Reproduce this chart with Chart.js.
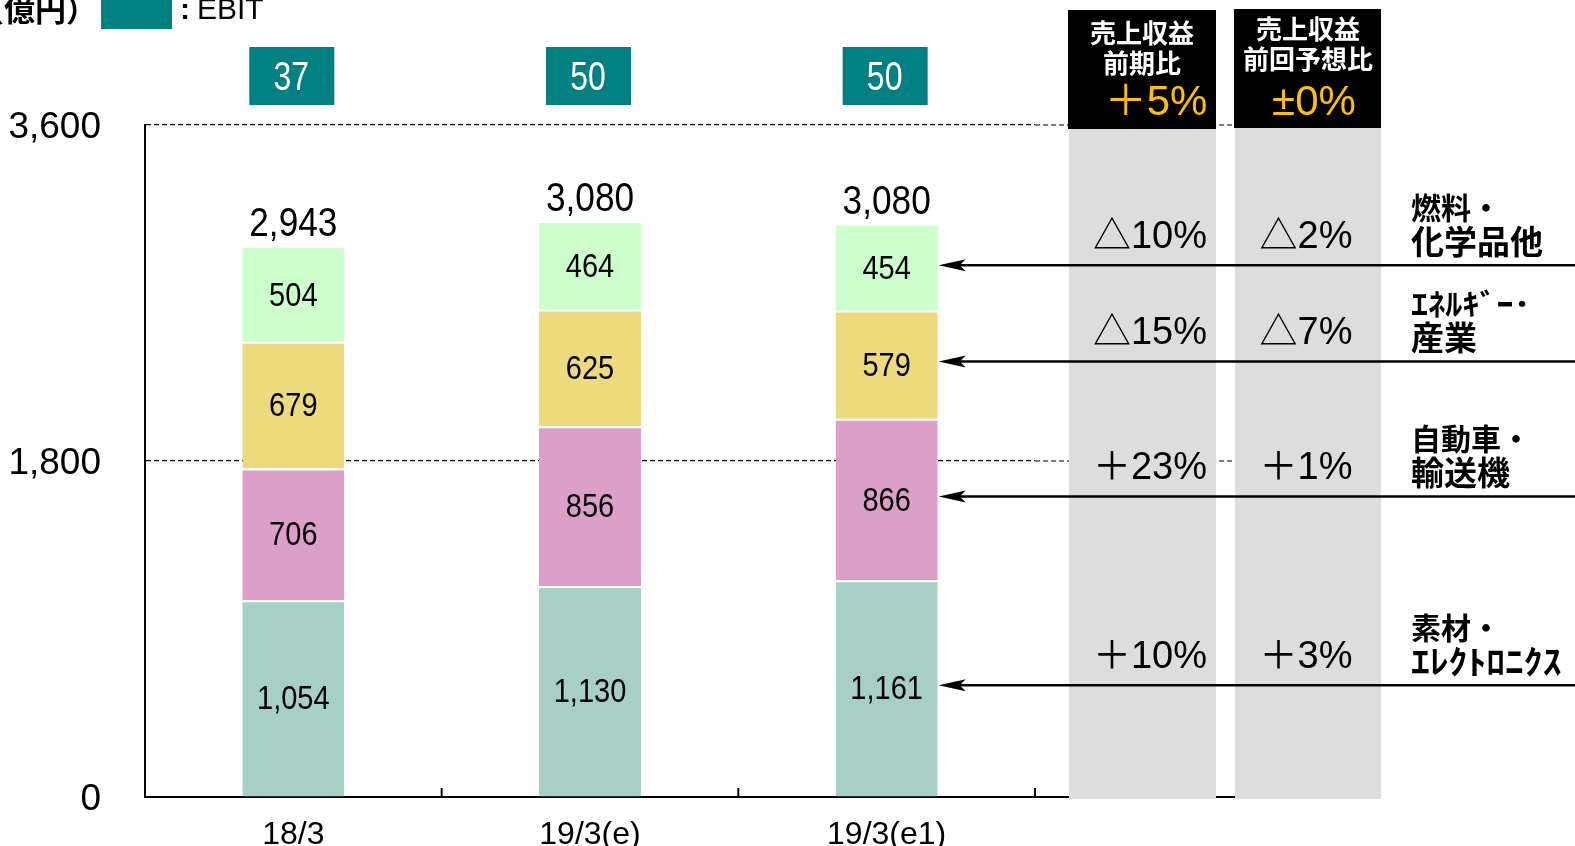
<!DOCTYPE html>
<html>
<head>
<meta charset="utf-8">
<script src="https://cdn.jsdelivr.net/npm/chart.js@4.4.0/dist/chart.umd.min.js"></script>
<style>
  html, body { margin: 0; padding: 0; background: #fff; }
</style>
</head>
<body>
<canvas id="my-chart" width="1575" height="846"></canvas>
<script>
'use strict';

/* DATA */
const categories = ['18/3', '19/3(e)', '19/3(e1)'];
const materials = [1054, 1130, 1161];   // 素材・エレクトロニクス
const automotive = [706, 856, 866];     // 自動車・輸送機
const energy = [679, 625, 579];         // エネルギー・産業
const fuels = [504, 464, 454];          // 燃料・化学品他
const totals = [2943, 3080, 3080];
const ebit = [37, 50, 50];
const yTicks = [0, 1800, 3600];
// bottom to top, same order as the datasets
const segmentNames = [['素材・', 'ｴﾚｸﾄﾛﾆｸｽ'], ['自動車・', '輸送機'], ['ｴﾈﾙｷﾞｰ･', '産業'], ['燃料・', '化学品他']];
const yoyChange = ['＋10%', '＋23%', '△15%', '△10%'];
const planChange = ['＋3%', '＋1%', '△7%', '△2%'];
const totalYoy = '＋5%';
const totalPlan = '±0%';

/* STYLE */
const SANS = '"Liberation Sans", "Noto Sans CJK JP", sans-serif';
const JP = '"Noto Sans CJK JP", sans-serif';
const colors = ['#A6CFC6', '#DCA0C8', '#EDDA7D', '#CCFFCC'];
const HALF_KANA = /[\uFF61-\uFF9F]/;

// text helper, sx < 1 squeezes the glyphs sideways, > 1 widens them
function txt(ctx, s, x, y, font, color, align, sx) {
  ctx.save();
  ctx.translate(x, y);
  ctx.scale(sx || 1, 1);
  ctx.font = font;
  ctx.fillStyle = color;
  ctx.textAlign = align || 'center';
  ctx.textBaseline = 'middle';
  ctx.fillText(s, 0, 0);
  ctx.restore();
}

/* DRAWING ON TOP OF THE CHART */
const annotations = {
  id: 'annotations',
  afterDatasetsDraw(chart) {
    const ctx = chart.ctx;
    // labels inside the segments
    chart.data.datasets.forEach((ds, i) => {
      chart.getDatasetMeta(i).data.forEach((el, j) => {
        txt(ctx, ds.data[j].toLocaleString('en-US'), el.x, (el.y + el.base) / 2 + 2,
          '33px ' + SANS, '#000', 'center', 0.88);
      });
    });
    // totals and EBIT boxes
    const top = chart.getDatasetMeta(chart.data.datasets.length - 1).data;
    top.forEach((el, j) => {
      txt(ctx, totals[j].toLocaleString('en-US'), el.x, el.y - 23, '40px ' + SANS, '#000', 'center', 0.88);
      ctx.fillStyle = '#008080';
      ctx.fillRect(el.x - 44, 47, 85, 58);
      txt(ctx, String(ebit[j]), el.x - 2, 79, '40px ' + SANS, '#fff', 'center', 0.8);
    });
  },
  afterDraw(chart) {
    const ctx = chart.ctx;
    const area = chart.chartArea;
    const xs = chart.scales.x;
    const ys = chart.scales.y;
    const lineEnd = 1235;
    ctx.save();

    // tick marks between categories, pointing up
    ctx.strokeStyle = '#000';
    ctx.lineWidth = 2;
    for (let i = 0; i < categories.length; i++) {
      const x = i < categories.length - 1
        ? (xs.getPixelForValue(i) + xs.getPixelForValue(i + 1)) / 2
        : area.right;
      ctx.beginPath();
      ctx.moveTo(x, area.bottom);
      ctx.lineTo(x, area.bottom - 9);
      ctx.stroke();
    }
    // axis and grid lines carried on under the comparison columns
    ctx.beginPath();
    ctx.moveTo(area.right, area.bottom);
    ctx.lineTo(lineEnd, area.bottom);
    ctx.stroke();
    ctx.lineWidth = 1.2;
    ctx.setLineDash([5, 3]);
    [1800, 3600].forEach(v => {
      const y = ys.getPixelForValue(v);
      ctx.beginPath();
      ctx.moveTo(area.right, y);
      ctx.lineTo(lineEnd, y);
      ctx.stroke();
    });
    ctx.setLineDash([]);

    // comparison columns
    ctx.fillStyle = '#DDDDDD';
    ctx.fillRect(1069, 127, 147, 672);
    ctx.fillRect(1235, 127, 146, 672);
    ctx.fillStyle = '#000';
    ctx.fillRect(1068, 10, 148, 119);
    ctx.fillRect(1234, 9, 147, 119);
    txt(ctx, '売上収益', 1142, 33, 'bold 26px ' + JP, '#fff');
    txt(ctx, '前期比', 1142, 63, 'bold 26px ' + JP, '#fff');
    txt(ctx, '売上収益', 1308, 29, 'bold 26px ' + JP, '#fff');
    txt(ctx, '前回予想比', 1308, 59, 'bold 26px ' + JP, '#fff');
    txt(ctx, totalYoy, 1156, 103, '42px ' + SANS, '#FFC000');
    txt(ctx, totalPlan, 1314, 103, '42px ' + SANS, '#FFC000');

    // arrows from the last bar to the segment names
    chart.data.datasets.forEach((ds, i) => {
      const el = chart.getDatasetMeta(i).data[categories.length - 1];
      const y = (el.y + el.base) / 2 - 3;
      const tip = el.x + el.width / 2 + 1;
      ctx.strokeStyle = '#000';
      ctx.lineWidth = 2.5;
      ctx.beginPath();
      ctx.moveTo(tip + 20, y);
      ctx.lineTo(chart.width, y);
      ctx.stroke();
      ctx.fillStyle = '#000';
      ctx.beginPath();
      ctx.moveTo(tip, y);
      ctx.lineTo(tip + 27, y - 6);
      ctx.lineTo(tip + 21, y);
      ctx.lineTo(tip + 27, y + 6);
      ctx.closePath();
      ctx.fill();

      txt(ctx, yoyChange[i], 1150, y - 28, '38px ' + SANS, '#000');
      txt(ctx, planChange[i], 1306, y - 28, '38px ' + SANS, '#000');
      segmentNames[i].forEach((line, k) => {
        const sx = HALF_KANA.test(line) ? 1.14 : 1;
        txt(ctx, line, 1411, y - 58 + k * 34, 'bold ' + (k ? 33 : 30) + 'px ' + JP, '#000', 'left', sx);
      });
    });

    // unit and legend
    ctx.fillStyle = '#008080';
    ctx.fillRect(101, 0, 71, 29);
    txt(ctx, '（億円）', -27, 9, 'bold 31px ' + JP, '#000', 'left');
    ctx.fillStyle = '#000';
    ctx.textAlign = 'left';
    ctx.textBaseline = 'alphabetic';
    ctx.font = 'bold 30px ' + SANS;
    ctx.fillText(':', 180, 19);
    ctx.font = '30px ' + SANS;
    ctx.fillText('EBIT', 197, 19);
    ctx.restore();
  }
};

/* CHART */
const seriesList = [materials, automotive, energy, fuels];
const canvasElem = document.getElementById('my-chart').getContext('2d');

new Chart(canvasElem, {
  type: 'bar',
  data: {
    labels: categories,
    datasets: seriesList.map((values, i) => ({
      data: values,
      backgroundColor: colors[i],
      borderColor: '#fff',
      borderWidth: i < seriesList.length - 1 ? { top: 2, right: 0, bottom: 0, left: 0 } : 0,
      borderSkipped: false,
      barPercentage: 1,
      categoryPercentage: 0.344,
    })),
  },
  options: {
    responsive: false,
    animation: false,
    devicePixelRatio: 1,
    layout: { padding: { top: 125, right: 540, left: 0, bottom: 0 } },
    plugins: { legend: { display: false }, tooltip: { enabled: false } },
    scales: {
      x: {
        stacked: true,
        grid: { display: false, drawTicks: false },
        border: { display: true, color: '#000', width: 2 },
        ticks: { color: '#000', font: { family: SANS, size: 32 }, padding: 19 },
        afterFit: s => { s.height = 49; },
      },
      y: {
        stacked: true,
        min: 0,
        max: 3600,
        afterBuildTicks: s => { s.ticks = yTicks.map(v => ({ value: v })); },
        grid: {
          color: c => (c.tick && c.tick.value === 0 ? 'rgba(0,0,0,0)' : '#000'),
          lineWidth: 1.2,
          drawTicks: true,
          tickLength: 40,
          tickColor: 'rgba(0,0,0,0)',
        },
        border: { display: true, color: '#000', width: 2, dash: [5, 3] },
        ticks: {
          color: '#000',
          font: { family: SANS, size: 37 },
          padding: 4,
          labelOffset: 3,
          callback: v => v.toLocaleString('en-US'),
        },
        afterFit: s => { s.width = 145; },
      },
    },
  },
  plugins: [annotations],
});
</script>
</body>
</html>
